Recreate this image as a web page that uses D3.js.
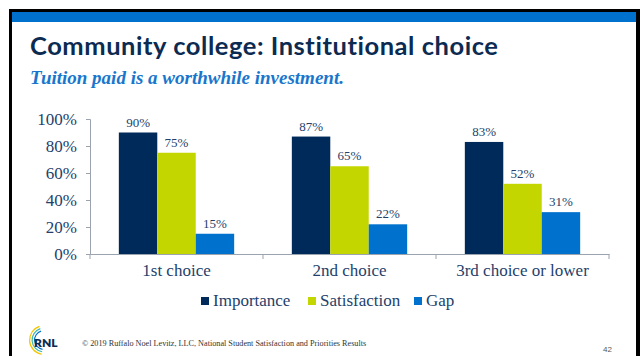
<!DOCTYPE html>
<html>
<head>
<meta charset="utf-8">
<script src="https://cdn.jsdelivr.net/npm/d3@7"></script>
<style>
  html, body { margin: 0; padding: 0; background: #fff; }
  svg { display: block; }
</style>
</head>
<body>
<svg id="chart" width="640" height="356"></svg>
<script>
// Survey results by institutional choice
const categories = ["1st choice", "2nd choice", "3rd choice or lower"];
const seriesNames = ["Importance", "Satisfaction", "Gap"];
const importance = [0.90, 0.87, 0.83];
const satisfaction = [0.75, 0.65, 0.52];
const gap = [0.15, 0.22, 0.31];
const yTicks = [0, 0.2, 0.4, 0.6, 0.8, 1.0];

const seriesValues = [importance, satisfaction, gap];
const colors = ["#002a5a", "#c4d600", "#0072ce"];
const textNavy = "#243f6b";
const serif = "'Liberation Serif', 'Times New Roman', serif";

const svg = d3.select("#chart");

// Slide frame
svg.append("rect").attr("x", 0).attr("y", 0).attr("width", 640).attr("height", 356).attr("fill", "#fff");
svg.append("rect").attr("x", 9).attr("y", 9).attr("width", 631).attr("height", 360).attr("fill", "#000");
svg.append("rect").attr("x", 12).attr("y", 12).attr("width", 624).attr("height", 360).attr("fill", "#fff");
svg.append("rect").attr("x", 12).attr("y", 12).attr("width", 624).attr("height", 10).attr("fill", "#0072ce");

// Heading
svg.append("text")
  .attr("x", 30).attr("y", 55)
  .attr("font-family", "Lato, 'Open Sans', sans-serif")
  .attr("font-weight", 700)
  .attr("font-size", 25.5)
  .attr("letter-spacing", 0.55)
  .attr("fill", "#0c2b52")
  .text("Community college: Institutional choice");

svg.append("text")
  .attr("x", 30).attr("y", 84)
  .attr("font-family", serif)
  .attr("font-weight", 700)
  .attr("font-style", "italic")
  .attr("font-size", 19)
  .attr("fill", "#1976cc")
  .text("Tuition paid is a worthwhile investment.");

// Scales
const x0 = d3.scaleBand().domain(categories).range([90, 609]).paddingInner(0).paddingOuter(0);
const x1 = d3.scaleBand().domain(seriesNames).range([0, x0.bandwidth()]).paddingInner(0).paddingOuter(0.75);
const y = d3.scaleLinear().domain([0, 1]).range([254, 119]);

// Y axis
const yAxis = svg.append("g")
  .attr("transform", "translate(90,0)")
  .call(d3.axisLeft(y).tickValues(yTicks).tickFormat(d3.format(".0%")).tickSize(4).tickPadding(9));
yAxis.select(".domain").attr("stroke", "#9aa3ae");
yAxis.selectAll(".tick line").attr("stroke", "#9aa3ae");
yAxis.selectAll(".tick text")
  .attr("font-family", serif).attr("font-size", 17).attr("fill", textNavy);

// Bars
const groups = svg.append("g").selectAll("g")
  .data(categories)
  .join("g")
  .attr("transform", d => `translate(${x0(d)},0)`);

groups.selectAll("rect")
  .data((c, i) => seriesNames.map((s, j) => ({ s, j, v: seriesValues[j][i] })))
  .join("rect")
  .attr("x", d => x1(d.s))
  .attr("y", d => y(d.v))
  .attr("width", x1.bandwidth())
  .attr("height", d => y(0) - y(d.v))
  .attr("fill", d => colors[d.j]);

groups.selectAll("text.val")
  .data((c, i) => seriesNames.map((s, j) => ({ s, j, v: seriesValues[j][i] })))
  .join("text")
  .attr("class", "val")
  .attr("x", d => x1(d.s) + x1.bandwidth() / 2)
  .attr("y", d => y(d.v) - 6)
  .attr("text-anchor", "middle")
  .attr("font-family", serif)
  .attr("font-size", 13)
  .attr("fill", textNavy)
  .text(d => d3.format(".0%")(d.v));

// X axis: baseline with ticks at category boundaries
const xAxis = svg.append("g")
  .attr("transform", `translate(0,${y(0)})`)
  .call(d3.axisBottom(x0).tickSize(0).tickPadding(10));
xAxis.select(".domain").attr("stroke", "#9aa3ae");
xAxis.selectAll(".tick text")
  .attr("font-family", serif).attr("font-size", 17).attr("fill", textNavy);

const bounds = categories.map(c => x0(c)).concat([x0(categories[categories.length - 1]) + x0.bandwidth()]);
xAxis.selectAll("line.bound")
  .data(bounds)
  .join("line")
  .attr("class", "bound")
  .attr("x1", d => d).attr("x2", d => d)
  .attr("y1", 0).attr("y2", 5)
  .attr("stroke", "#9aa3ae");

// Legend
const legendX = [201, 308, 414];
const legend = svg.append("g").selectAll("g")
  .data(seriesNames)
  .join("g")
  .attr("transform", (d, i) => `translate(${legendX[i]},297)`);
legend.append("rect").attr("width", 8).attr("height", 8).attr("fill", (d, i) => colors[i]);
legend.append("text")
  .attr("x", 12).attr("y", 9)
  .attr("font-family", serif).attr("font-size", 17).attr("fill", textNavy)
  .text(d => d);

// Footer logo
const logo = svg.append("g").attr("transform", "translate(44,340)");
const arcColors = ["#f2c500", "#3bb6b0", "#0072ce"];
[15, 12.5, 10].forEach((r, i) => {
  logo.append("path")
    .attr("d", d3.arc()({ innerRadius: r - 1.2, outerRadius: r, startAngle: -Math.PI * 0.95, endAngle: -Math.PI * 0.1 }))
    .attr("fill", arcColors[i]);
});
logo.append("text")
  .attr("x", -10).attr("y", 7)
  .attr("font-family", "Lato, 'Open Sans', sans-serif")
  .attr("font-weight", 800)
  .attr("font-size", 12)
  .attr("fill", "#0c2b52")
  .text("RNL");

svg.append("text")
  .attr("x", 82).attr("y", 346)
  .attr("font-family", serif)
  .attr("font-size", 8.2)
  .attr("fill", "#333")
  .text("© 2019 Ruffalo Noel Levitz, LLC, National Student Satisfaction and Priorities Results");

svg.append("text")
  .attr("x", 603).attr("y", 352)
  .attr("font-family", "'Liberation Sans', Arial, sans-serif")
  .attr("font-size", 8)
  .attr("fill", "#555")
  .text("42");
</script>
</body>
</html>
